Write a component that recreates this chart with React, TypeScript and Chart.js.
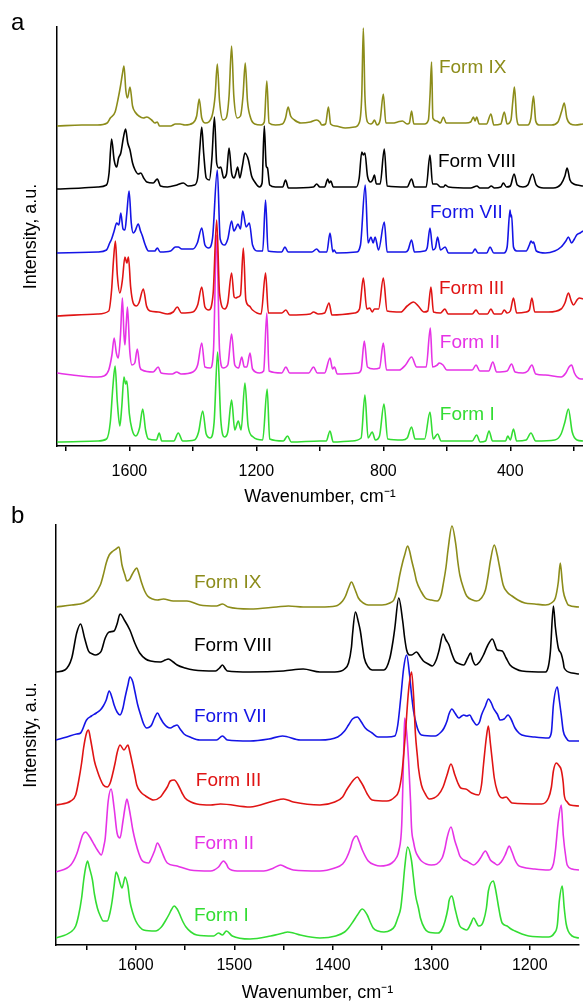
import React, { useEffect, useRef } from 'react';
import { Chart, registerables } from 'chart.js';

Chart.register(...registerables);

const FONT = '"Liberation Sans", Arial, Helvetica, sans-serif';

const FORM_NAMES = ['Form IX', 'Form VIII', 'Form VII', 'Form III', 'Form II', 'Form I'];
const FORM_COLORS = ['#8c8c1a', '#000000', '#1414e6', '#e01414', '#e633e6', '#33dd33'];

// ---------- Panel a : full range spectra (wavenumber, intensity above own baseline) ----------
const A_IX = [[1828,0],[1750,1],[1700,1],[1670,3],[1660,8],[1645,14],[1635,28],[1628,40],[1622,52],[1617,60],[1611,35],[1606,28],[1598,39],[1590,20],[1582,14],[1570,10],[1556,8],[1545,9],[1530,6],[1520,3],[1512,4],[1505,0],[1470,0],[1455,2],[1440,2],[1425,1],[1400,3],[1388,10],[1380,27],[1372,8],[1360,3],[1350,4],[1338,12],[1330,30],[1323,62],[1316,25],[1305,6],[1295,8],[1286,30],[1278,80],[1271,30],[1260,8],[1250,10],[1242,30],[1235,63],[1228,25],[1218,8],[1205,2],[1185,1],[1175,4],[1167,45],[1160,3],[1140,1],[1118,2],[1108,8],[1100,19],[1092,10],[1080,6],[1060,3],[1030,4],[1010,6],[1000,4],[994,1],[982,2],[973,19],[966,2],[950,0],[920,-2],[890,-1],[875,4],[868,30],[863,98],[858,30],[850,4],[840,2],[834,3],[828,6],[820,1],[810,6],[800,32],[792,3],[770,3],[755,4],[740,5],[725,2],[718,3],[711,15],[704,2],[670,2],[658,6],[653,30],[648,64],[644,8],[632,5],[620,3],[611,9],[602,3],[540,3],[525,4],[516,9],[511,5],[506,9],[498,2],[475,2],[461,12],[452,1],[430,2],[419,14],[410,2],[398,6],[392,25],[387,39],[380,8],[372,1],[345,1],[335,8],[327,30],[320,5],[310,1],[270,1],[250,4],[238,15],[230,23],[222,8],[210,2],[195,1],[171,2]];
const A_VIII = [[1828,-1],[1750,0],[1700,1],[1672,3],[1664,15],[1656,49],[1648,28],[1640,21],[1634,30],[1627,35],[1619,50],[1612,59],[1605,45],[1598,38],[1590,25],[1582,18],[1572,14],[1564,15],[1555,10],[1545,6],[1525,5],[1512,9],[1502,2],[1480,1],[1450,3],[1430,5],[1415,2],[1395,3],[1385,10],[1378,40],[1372,61],[1366,35],[1358,10],[1348,8],[1340,30],[1332,71],[1325,25],[1318,20],[1312,21],[1303,10],[1294,14],[1286,40],[1278,15],[1270,10],[1265,14],[1259,21],[1252,10],[1244,22],[1236,35],[1225,28],[1215,12],[1205,6],[1190,1],[1182,5],[1175,62],[1169,22],[1165,20],[1158,3],[1140,1],[1117,1],[1108,8],[1099,0],[1020,1],[1010,4],[1000,1],[985,1],[975,9],[970,5],[965,7],[958,1],[885,1],[876,10],[868,36],[863,33],[858,35],[850,12],[840,6],[834,8],[828,13],[822,4],[810,4],[797,39],[788,2],[725,1],[711,9],[702,1],[665,1],[653,33],[645,4],[632,4],[620,1],[610,1],[605,3],[595,1],[525,0],[505,2],[496,0],[470,0],[460,2],[450,0],[430,1],[422,5],[412,1],[400,2],[388,14],[378,3],[360,1],[345,3],[330,14],[318,3],[295,0],[265,0],[240,4],[228,12],[221,20],[212,8],[200,4],[190,3],[171,2]];
const A_VII = [[1828,0],[1700,1],[1672,3],[1662,10],[1656,14],[1648,22],[1640,30],[1633,28],[1627,40],[1620,24],[1614,23],[1608,40],[1601,62],[1594,30],[1588,20],[1582,22],[1572,29],[1565,22],[1560,18],[1550,8],[1540,2],[1520,2],[1512,5],[1503,1],[1470,2],[1455,6],[1446,6],[1435,4],[1400,4],[1386,10],[1372,25],[1362,8],[1350,5],[1338,15],[1323,83],[1314,14],[1300,8],[1290,14],[1278,32],[1271,22],[1266,24],[1258,29],[1250,24],[1243,42],[1232,26],[1222,30],[1212,8],[1195,2],[1180,2],[1171,53],[1163,2],[1120,1],[1110,6],[1100,1],[1025,1],[1010,4],[1000,1],[978,1],[968,20],[959,1],[955,3],[948,0],[885,1],[872,8],[857,68],[848,10],[839,16],[832,10],[826,16],[815,3],[797,31],[788,1],[730,1],[722,3],[711,13],[702,1],[670,2],[662,5],[653,25],[644,3],[636,5],[629,16],[620,3],[605,6],[595,0],[520,0],[511,4],[502,0],[474,0],[464,6],[452,0],[420,0],[410,6],[401,43],[398,36],[396,38],[390,6],[380,2],[350,2],[340,8],[335,12],[330,10],[327,11],[318,2],[290,0],[260,2],[240,6],[225,12],[217,16],[207,10],[198,14],[191,18],[180,20],[171,22]];
const A_III = [[1828,-1],[1700,1],[1665,4],[1656,25],[1650,55],[1644,74],[1638,40],[1630,22],[1622,35],[1614,58],[1608,52],[1603,58],[1596,28],[1588,12],[1578,9],[1570,12],[1556,26],[1546,9],[1535,4],[1509,3],[1480,1],[1462,3],[1449,8],[1436,2],[1400,3],[1385,10],[1372,28],[1362,8],[1350,5],[1336,22],[1325,95],[1316,22],[1300,6],[1290,12],[1278,42],[1270,18],[1265,17],[1258,18],[1250,20],[1241,67],[1233,15],[1222,9],[1212,5],[1185,1],[1171,42],[1162,2],[1120,2],[1107,5],[1095,0],[1030,1],[1020,3],[1005,1],[985,2],[971,12],[962,0],[890,2],[875,6],[863,37],[852,6],[843,7],[835,3],[828,6],[815,6],[800,37],[788,4],[745,3],[725,9],[705,13],[690,9],[672,3],[660,4],[650,28],[642,3],[620,2],[606,6],[596,1],[520,1],[508,5],[498,1],[472,1],[461,6],[451,1],[428,1],[419,5],[410,2],[400,4],[390,17],[380,2],[350,3],[340,5],[332,17],[323,3],[280,3],[240,6],[228,12],[217,22],[208,14],[201,10],[190,15],[183,17],[171,16]];
const A_II = [[1828,2],[1780,0],[1700,-2],[1680,-1],[1665,5],[1655,20],[1648,37],[1641,22],[1635,17],[1628,40],[1622,77],[1617,40],[1614,30],[1610,50],[1606,68],[1599,25],[1592,10],[1583,12],[1575,26],[1567,8],[1560,5],[1525,3],[1509,8],[1500,2],[1465,1],[1451,3],[1437,1],[1400,3],[1385,10],[1372,32],[1362,8],[1345,7],[1335,25],[1325,140],[1316,25],[1305,7],[1290,10],[1278,41],[1268,10],[1256,7],[1246,18],[1238,8],[1230,8],[1220,22],[1212,6],[1190,2],[1177,4],[1167,62],[1160,4],[1120,2],[1107,8],[1095,2],[1035,2],[1020,8],[1008,2],[985,2],[968,17],[960,6],[954,8],[945,1],[880,2],[870,5],[860,34],[850,8],[830,6],[812,7],[800,32],[790,5],[750,5],[730,10],[711,18],[695,8],[665,8],[652,47],[645,8],[630,10],[624,12],[612,10],[600,5],[520,5],[508,10],[496,4],[468,4],[455,13],[443,3],[410,4],[396,11],[385,3],[360,2],[345,4],[332,10],[320,1],[290,0],[240,-2],[225,2],[215,8],[207,10],[198,2],[190,-2],[178,-4],[171,-4]];
const A_I = [[1828,0],[1700,1],[1672,3],[1660,20],[1652,55],[1645,76],[1638,40],[1630,16],[1624,35],[1617,65],[1612,58],[1608,61],[1600,28],[1592,13],[1580,6],[1568,14],[1558,33],[1549,12],[1540,3],[1515,2],[1506,9],[1498,1],[1460,1],[1446,9],[1432,1],[1395,2],[1382,10],[1369,31],[1358,8],[1345,4],[1333,20],[1322,90],[1312,22],[1300,5],[1290,10],[1278,42],[1268,12],[1257,21],[1248,12],[1236,59],[1226,16],[1210,5],[1180,2],[1166,53],[1158,3],[1115,1],[1102,6],[1090,0],[1000,1],[980,1],[968,11],[958,0],[900,1],[870,4],[858,47],[848,4],[835,10],[825,2],[812,6],[798,38],[786,3],[740,2],[725,4],[711,15],[700,3],[670,3],[653,30],[643,3],[629,8],[618,1],[520,1],[506,7],[495,0],[478,1],[467,11],[456,1],[415,1],[408,6],[400,2],[390,13],[380,1],[350,2],[335,9],[320,1],[260,2],[240,8],[228,20],[217,33],[205,10],[190,2],[171,1]];
const A_OFFSETS = [319, 257, 192, 130, 70, 3];
const A_TICKS = [1800, 1600, 1400, 1200, 1000, 800, 600, 400, 200];
const A_TICK_LABELS = [1600, 1200, 800, 400];
const A_LABEL_X = [625, 628, 653, 625, 622, 622];
const A_LABEL_Y = [377, 283, 232, 156, 102, 30];

// ---------- Panel b : 1680-1150 cm-1 detail ----------
const B_IX = [[1681,0],[1665,2],[1653,4],[1643,11],[1636,22],[1633,32],[1630,44],[1627,52],[1623,56],[1620,58],[1617,60],[1614,42],[1611,32],[1609,26],[1606,28],[1604,32],[1601,37],[1599,39],[1597,34],[1594,24],[1591,16],[1588,11],[1583,8],[1578,7],[1572,8],[1562,6],[1548,6],[1535,2],[1518,1],[1512,3],[1506,0],[1484,-2],[1457,0],[1445,1],[1430,0],[1413,0],[1397,1],[1390,6],[1387,11],[1384,19],[1381,25],[1378,19],[1374,9],[1369,4],[1364,2],[1350,2],[1342,4],[1338,7],[1335,16],[1332,32],[1329,45],[1327,52],[1324,61],[1322,56],[1320,47],[1317,35],[1315,26],[1310,15],[1306,9],[1300,7],[1294,6],[1290,12],[1288,22],[1285,40],[1283,57],[1279,81],[1275,62],[1273,45],[1271,32],[1267,18],[1264,11],[1258,7],[1254,6],[1249,9],[1245,17],[1242,33],[1240,46],[1236,62],[1233,52],[1231,42],[1227,22],[1223,15],[1218,11],[1212,7],[1205,4],[1195,3],[1184,2],[1178,4],[1174,9],[1171,25],[1169,44],[1167,25],[1166,16],[1163,6],[1161,2],[1150,0]];
const B_VIII = [[1681,0],[1672,2],[1665,14],[1660,39],[1656,48],[1652,34],[1648,21],[1644,18],[1641,17],[1638,18],[1635,21],[1631,34],[1627,40],[1622,41],[1619,48],[1616,58],[1611,51],[1606,42],[1601,29],[1596,19],[1590,13],[1585,11],[1575,10],[1570,12],[1567,13],[1562,10],[1558,7],[1550,4],[1541,2],[1519,1],[1515,4],[1512,7],[1509,3],[1507,1],[1484,0],[1450,1],[1430,3],[1413,0],[1398,0],[1388,3],[1384,9],[1381,25],[1380,37],[1377,60],[1374,50],[1372,41],[1370,27],[1368,14],[1364,5],[1360,2],[1348,2],[1342,14],[1339,30],[1337,44],[1333,74],[1329,51],[1327,34],[1325,22],[1322,17],[1320,17],[1315,20],[1311,15],[1308,11],[1303,8],[1299,6],[1295,12],[1292,22],[1288,38],[1285,32],[1282,27],[1279,18],[1276,11],[1271,8],[1267,7],[1263,14],[1260,19],[1258,12],[1255,7],[1251,10],[1247,17],[1243,26],[1238,33],[1233,22],[1228,21],[1224,14],[1220,7],[1214,3],[1208,1],[1184,0],[1181,6],[1179,21],[1176,66],[1174,45],[1171,24],[1168,18],[1166,10],[1165,4],[1157,-1],[1150,-2]];
const B_VII = [[1681,0],[1670,3],[1660,6],[1656,7],[1650,20],[1645,24],[1640,27],[1636,30],[1633,34],[1630,40],[1627,49],[1624,42],[1622,35],[1619,28],[1616,25],[1613,32],[1611,42],[1608,55],[1606,63],[1603,58],[1601,49],[1598,35],[1595,25],[1592,16],[1589,12],[1586,13],[1584,15],[1581,22],[1578,27],[1575,22],[1572,17],[1568,13],[1565,12],[1561,14],[1558,15],[1555,11],[1551,6],[1545,3],[1535,0],[1518,0],[1512,4],[1507,0],[1484,-1],[1465,1],[1451,4],[1433,0],[1413,0],[1395,3],[1388,9],[1384,15],[1380,21],[1375,23],[1371,18],[1367,12],[1360,7],[1354,3],[1345,3],[1337,4],[1334,15],[1331,42],[1328,72],[1325,85],[1322,65],[1320,45],[1318,29],[1315,15],[1313,9],[1310,5],[1296,4],[1290,8],[1287,12],[1284,19],[1282,26],[1279,31],[1276,27],[1272,22],[1269,24],[1267,25],[1264,24],[1261,25],[1258,20],[1254,15],[1251,18],[1249,25],[1245,34],[1242,41],[1239,37],[1237,32],[1233,26],[1230,20],[1226,21],[1222,25],[1219,21],[1215,12],[1211,7],[1208,5],[1195,3],[1181,2],[1178,8],[1176,35],[1172,53],[1170,40],[1168,25],[1166,9],[1163,2],[1160,-1],[1150,-1]];
const B_III = [[1681,0],[1666,4],[1661,10],[1658,24],[1655,42],[1653,57],[1650,72],[1648,75],[1646,66],[1644,55],[1642,44],[1639,34],[1636,26],[1633,20],[1629,18],[1626,22],[1624,29],[1621,42],[1619,52],[1616,60],[1612,55],[1608,60],[1606,53],[1604,44],[1601,30],[1599,20],[1595,13],[1590,9],[1582,5],[1575,8],[1572,12],[1568,18],[1565,24],[1561,25],[1557,20],[1553,12],[1550,7],[1544,3],[1538,1],[1524,0],[1514,1],[1484,-2],[1460,4],[1450,6],[1440,3],[1413,0],[1398,3],[1390,8],[1386,15],[1382,21],[1379,25],[1375,28],[1372,24],[1369,19],[1365,11],[1360,5],[1345,4],[1337,8],[1333,14],[1330,30],[1328,50],[1326,75],[1323,115],[1320,133],[1318,110],[1316,70],[1314,48],[1313,37],[1310,20],[1306,11],[1302,6],[1293,10],[1288,18],[1284,30],[1280,41],[1276,30],[1273,22],[1270,17],[1265,16],[1259,12],[1252,10],[1249,20],[1247,40],[1244,68],[1242,79],[1240,62],[1238,44],[1236,27],[1233,14],[1228,7],[1224,8],[1221,5],[1218,2],[1188,1],[1181,7],[1178,18],[1176,34],[1173,42],[1170,39],[1168,35],[1166,22],[1165,10],[1162,3],[1159,0],[1150,-1]];
const B_II = [[1681,0],[1666,7],[1660,18],[1656,31],[1654,37],[1651,40],[1648,37],[1646,34],[1642,27],[1639,22],[1635,17],[1632,28],[1631,34],[1628,71],[1625,83],[1622,64],[1619,39],[1616,34],[1613,51],[1611,64],[1609,73],[1607,65],[1605,54],[1603,42],[1600,29],[1597,19],[1594,12],[1587,9],[1584,14],[1581,21],[1578,29],[1575,24],[1573,19],[1570,12],[1568,9],[1558,6],[1545,2],[1524,1],[1516,5],[1511,11],[1508,8],[1506,4],[1497,1],[1470,1],[1460,4],[1453,7],[1446,4],[1440,2],[1413,1],[1398,4],[1390,8],[1386,14],[1382,24],[1380,31],[1376,36],[1373,30],[1370,22],[1364,11],[1357,7],[1352,6],[1340,9],[1335,15],[1333,21],[1330,47],[1328,120],[1327,154],[1325,140],[1323,111],[1321,70],[1320,44],[1318,30],[1316,21],[1313,15],[1310,11],[1300,7],[1289,14],[1286,24],[1284,34],[1280,45],[1276,31],[1273,22],[1271,16],[1267,12],[1264,11],[1261,9],[1257,7],[1253,10],[1250,14],[1245,21],[1242,16],[1240,12],[1236,9],[1233,7],[1229,10],[1225,17],[1223,22],[1221,26],[1218,20],[1215,12],[1212,7],[1208,5],[1195,3],[1181,2],[1176,8],[1174,21],[1171,51],[1168,67],[1166,37],[1163,12],[1162,7],[1157,3],[1150,2]];
const B_I = [[1681,0],[1666,6],[1661,12],[1658,23],[1655,40],[1653,57],[1651,70],[1649,77],[1647,70],[1644,58],[1642,44],[1639,30],[1636,22],[1633,17],[1629,17],[1626,26],[1624,37],[1622,52],[1620,66],[1618,62],[1616,55],[1614,50],[1612,57],[1611,61],[1608,52],[1606,37],[1603,25],[1600,17],[1596,11],[1592,8],[1580,7],[1574,11],[1570,17],[1566,24],[1564,28],[1561,32],[1558,29],[1556,25],[1552,16],[1549,11],[1544,6],[1538,3],[1521,2],[1516,5],[1512,3],[1508,7],[1502,2],[1484,-1],[1463,2],[1450,5],[1446,6],[1440,5],[1433,3],[1413,0],[1397,2],[1388,6],[1384,10],[1379,17],[1375,23],[1370,29],[1365,23],[1362,16],[1359,10],[1354,7],[1348,6],[1341,8],[1337,12],[1334,20],[1331,30],[1329,48],[1327,70],[1324,91],[1320,77],[1318,60],[1316,43],[1313,30],[1311,20],[1307,10],[1303,6],[1293,5],[1289,9],[1286,17],[1283,30],[1282,37],[1279,42],[1276,30],[1273,18],[1271,12],[1267,9],[1264,8],[1260,14],[1257,20],[1254,15],[1252,12],[1249,13],[1247,17],[1244,30],[1242,47],[1237,57],[1235,50],[1232,33],[1230,22],[1228,15],[1223,12],[1219,9],[1215,7],[1208,4],[1201,2],[1181,1],[1175,5],[1172,13],[1170,37],[1167,52],[1165,30],[1163,14],[1161,7],[1157,2],[1150,0]];
const B_OFFSETS = [338, 273, 205, 140, 73, 7];
const B_TICKS = [1650, 1600, 1550, 1500, 1450, 1400, 1350, 1300, 1250, 1200];
const B_TICK_LABELS = [1600, 1500, 1400, 1300, 1200];
const B_LABEL_X = [1541, 1541, 1541, 1539, 1541, 1541];
const B_LABEL_Y = [362, 299, 228, 164, 101, 29];

// draw order: first entry ends up on top
const DRAW_ORDER = [3, 2, 4, 5, 1, 0];

type Spec = {
  series: number[][][];
  offsets: number[];
  ticks: number[];
  tickLabels: number[];
  labelX: number[];
  labelY: number[];
  xMin: number;
  xMax: number;
  yMin: number;
  yMax: number;
  padTop: number;
  padRight: number;
  yAxisWidth: number;
  xAxisHeight: number;
  tickPadding: number;
};

const SPEC_A: Spec = {
  series: [A_IX, A_VIII, A_VII, A_III, A_II, A_I],
  offsets: A_OFFSETS,
  ticks: A_TICKS,
  tickLabels: A_TICK_LABELS,
  labelX: A_LABEL_X,
  labelY: A_LABEL_Y,
  xMin: 171,
  xMax: 1828,
  yMin: -1,
  yMax: 418,
  padTop: 27,
  padRight: 0,
  yAxisWidth: 57,
  xAxisHeight: 64,
  tickPadding: 11,
};

const SPEC_B: Spec = {
  series: [B_IX, B_VIII, B_VII, B_III, B_II, B_I],
  offsets: B_OFFSETS,
  ticks: B_TICKS,
  tickLabels: B_TICK_LABELS,
  labelX: B_LABEL_X,
  labelY: B_LABEL_Y,
  xMin: 1150,
  xMax: 1681,
  yMin: 0,
  yMax: 420,
  padTop: 15,
  padRight: 4,
  yAxisWidth: 56,
  xAxisHeight: 61,
  tickPadding: 6,
};

function buildChart(canvas: HTMLCanvasElement, s: Spec) {
  const datasets = DRAW_ORDER.map((i) => ({
    label: FORM_NAMES[i],
    data: s.series[i].map(([x, y]) => ({ x, y: y + s.offsets[i] })),
    borderColor: FORM_COLORS[i],
    backgroundColor: FORM_COLORS[i],
    borderWidth: 1.6,
    pointRadius: 0,
    fill: false,
    cubicInterpolationMode: 'monotone' as const,
  }));

  const labelPlugin = {
    id: 'formLabels',
    afterDatasetsDraw(chart: any) {
      const { ctx } = chart;
      const xs = chart.scales.x;
      const ys = chart.scales.y;
      ctx.save();
      ctx.font = `19px ${FONT}`;
      ctx.textBaseline = 'middle';
      ctx.textAlign = 'left';
      FORM_NAMES.forEach((name, i) => {
        ctx.fillStyle = FORM_COLORS[i];
        ctx.fillText(name, xs.getPixelForValue(s.labelX[i]), ys.getPixelForValue(s.labelY[i]));
      });
      ctx.restore();
    },
  };

  return new Chart(canvas, {
    type: 'line',
    data: { datasets },
    options: {
      responsive: false,
      animation: false,
      parsing: false as any,
      layout: { padding: { top: s.padTop, right: s.padRight, left: 0, bottom: 0 } },
      plugins: { legend: { display: false }, tooltip: { enabled: false } },
      scales: {
        x: {
          type: 'linear',
          reverse: true,
          min: s.xMin,
          max: s.xMax,
          afterBuildTicks: (scale: any) => {
            scale.ticks = s.ticks.map((v) => ({ value: v }));
          },
          afterFit: (scale: any) => {
            scale.height = s.xAxisHeight;
            scale.paddingLeft = 0;
            scale.paddingRight = 0;
          },
          ticks: {
            autoSkip: false,
            maxRotation: 0,
            padding: s.tickPadding,
            color: '#000',
            font: { family: FONT, size: 16 },
            callback: (v: any) => (s.tickLabels.includes(Number(v)) ? String(v) : ''),
          },
          grid: { display: true, drawOnChartArea: false, drawTicks: true, tickLength: 5, color: '#000', lineWidth: 1.5 },
          border: { display: true, color: '#000', width: 1.5 },
          title: {
            display: true,
            text: 'Wavenumber, cm⁻¹',
            color: '#000',
            font: { family: FONT, size: 18 },
            padding: { top: 0, bottom: 2 },
          },
        },
        y: {
          type: 'linear',
          min: s.yMin,
          max: s.yMax,
          afterFit: (scale: any) => {
            scale.width = s.yAxisWidth;
          },
          ticks: { display: false },
          grid: { display: false, drawTicks: false },
          border: { display: true, color: '#000', width: 1.5 },
          title: {
            display: true,
            text: 'Intensity, a.u.',
            color: '#000',
            font: { family: FONT, size: 18 },
            padding: { top: 20, bottom: 0 },
          },
        },
      },
    } as any,
    plugins: [labelPlugin],
  });
}

export default function App() {
  const refA = useRef<HTMLCanvasElement>(null);
  const refB = useRef<HTMLCanvasElement>(null);

  useEffect(() => {
    const ca = buildChart(refA.current!, SPEC_A);
    const cb = buildChart(refB.current!, SPEC_B);
    return () => {
      ca.destroy();
      cb.destroy();
    };
  }, []);

  const letter: React.CSSProperties = {
    position: 'absolute',
    left: 11,
    fontFamily: FONT,
    fontSize: 24,
    lineHeight: '24px',
    color: '#000',
  };

  return (
    <div style={{ position: 'absolute', left: 0, top: 0, width: 583, height: 1006, background: '#fff' }}>
      <canvas ref={refA} width={583} height={510} style={{ position: 'absolute', left: 0, top: 0, display: 'block' }} />
      <canvas ref={refB} width={583} height={496} style={{ position: 'absolute', left: 0, top: 510, display: 'block' }} />
      <div style={{ ...letter, top: 10 }}>a</div>
      <div style={{ ...letter, top: 503 }}>b</div>
    </div>
  );
}
